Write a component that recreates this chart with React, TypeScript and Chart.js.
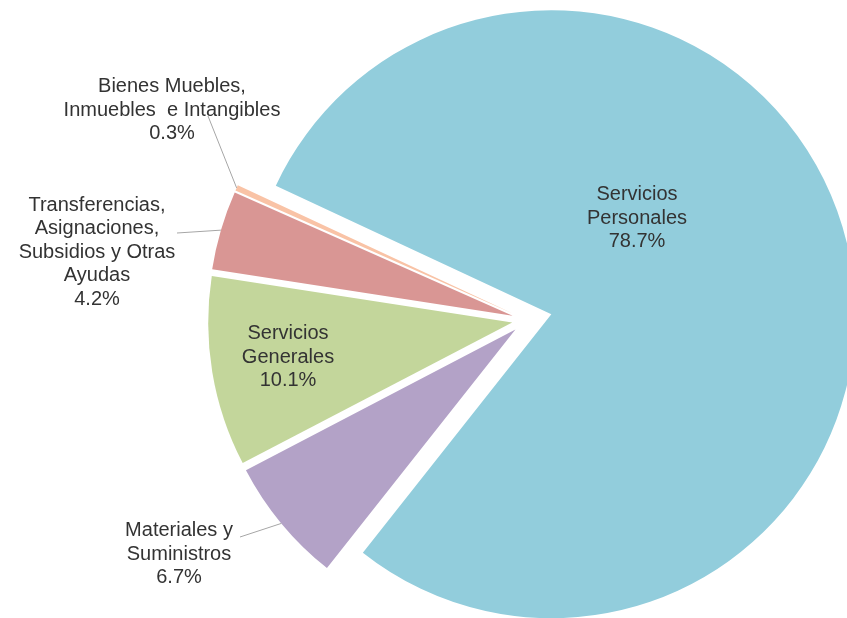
import React, { useEffect, useRef } from 'react';
import { Chart, registerables, ArcElement } from 'chart.js';

Chart.register(...registerables);

// ---- data ----
const categories = [
  'Servicios Personales',
  'Materiales y Suministros',
  'Servicios Generales',
  'Transferencias, Asignaciones, Subsidios y Otras Ayudas',
  'Bienes Muebles, Inmuebles e Intangibles',
];
const labelLines = [
  ['Servicios', 'Personales'],
  ['Materiales y', 'Suministros'],
  ['Servicios', 'Generales'],
  ['Transferencias,', 'Asignaciones,', 'Subsidios y Otras', 'Ayudas'],
  ['Bienes Muebles,', 'Inmuebles  e Intangibles'],
];
const shares = [78.7, 6.7, 10.1, 4.2, 0.3];
const percentLabels = ['78.7%', '6.7%', '10.1%', '4.2%', '0.3%'];

// ---- styling / layout ----
const colors = ['#92CDDC', '#B3A2C7', '#C3D69B', '#D99694', '#F9C3A6'];
const explode = [25, 15, 15, 15, 15];
const labelOffsets: Array<[number, number]> = [
  [110, -102],
  [-348, 234],
  [-239, 37],
  [-430, -68],
  [-355, -210],
];
const leaderStarts: Array<[number, number] | null> = [
  null,
  [-287, 217],
  null,
  [-350, -87],
  [-319, -204],
];
const LINE_H = 23.5;

// exploded slices: translate along mid-angle without growing the radius
const baseArcDraw = ArcElement.prototype.draw;
(ArcElement.prototype as any).draw = function (this: any, ctx: CanvasRenderingContext2D, area?: any) {
  const opts = this.options;
  const off = opts && opts.offset ? opts.offset : 0;
  if (!off) {
    baseArcDraw.call(this, ctx, area);
    return;
  }
  const mid = (this.startAngle + this.endAngle) / 2;
  ctx.save();
  ctx.translate(Math.cos(mid) * off, Math.sin(mid) * off);
  this.options = Object.assign({}, opts, { offset: 0 });
  baseArcDraw.call(this, ctx, area);
  this.options = opts;
  ctx.restore();
};

const labelPlugin = {
  id: 'sliceLabels',
  afterDatasetsDraw(chart: any) {
    const ctx: CanvasRenderingContext2D = chart.ctx;
    const meta = chart.getDatasetMeta(0);
    const cx = meta.data[0].x;
    const cy = meta.data[0].y;
    ctx.save();
    ctx.strokeStyle = '#A6A6A6';
    ctx.lineWidth = 1;
    leaderStarts.forEach((s, i) => {
      if (!s) return;
      const el = meta.data[i];
      const mid = (el.startAngle + el.endAngle) / 2;
      const r = el.outerRadius + explode[i];
      ctx.beginPath();
      ctx.moveTo(cx + s[0], cy + s[1]);
      ctx.lineTo(el.x + Math.cos(mid) * r, el.y + Math.sin(mid) * r);
      ctx.stroke();
    });
    ctx.font = '20px "Liberation Sans", Arial, sans-serif';
    ctx.fillStyle = '#333333';
    ctx.textAlign = 'center';
    ctx.textBaseline = 'middle';
    labelLines.forEach((lines, i) => {
      const all = [...lines, percentLabels[i]];
      const [dx, dy] = labelOffsets[i];
      const x = cx + dx;
      const y0 = cy + dy - ((all.length - 1) * LINE_H) / 2;
      all.forEach((t, j) => ctx.fillText(t, x, y0 + j * LINE_H));
    });
    ctx.restore();
  },
};

export default function App() {
  const ref = useRef<HTMLCanvasElement>(null);
  useEffect(() => {
    const chart = new Chart(ref.current as HTMLCanvasElement, {
      type: 'pie',
      data: {
        labels: categories,
        datasets: [
          {
            data: shares,
            backgroundColor: colors,
            borderWidth: 0,
            offset: explode,
            hoverOffset: 0,
          } as any,
        ],
      },
      options: {
        responsive: false,
        animation: false,
        events: [],
        radius: 304,
        rotation: 295,
        layout: { padding: { left: 207, right: 0, top: 22, bottom: 0 } },
        plugins: { legend: { display: false }, tooltip: { enabled: false } },
      } as any,
      plugins: [labelPlugin],
    });
    return () => chart.destroy();
  }, []);
  return (
    <div style={{ position: 'absolute', left: 0, top: 0, width: 847, height: 618, background: '#ffffff' }}>
      <canvas ref={ref} width={847} height={618} style={{ display: 'block' }} />
    </div>
  );
}
